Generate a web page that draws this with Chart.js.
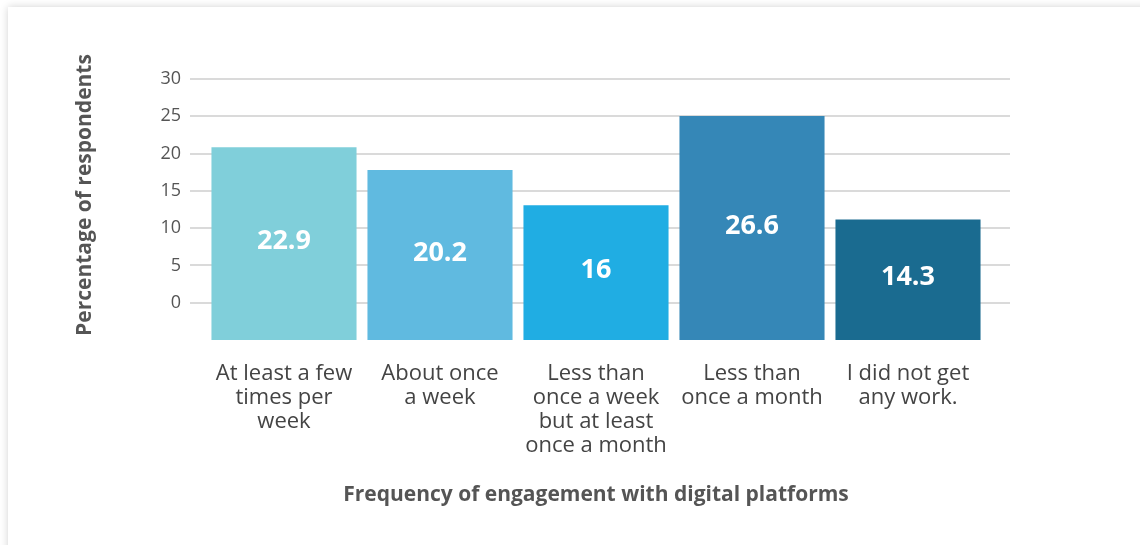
<!DOCTYPE html>
<html>
<head>
<meta charset="utf-8">
<script src="https://cdn.jsdelivr.net/npm/chart.js@4/dist/chart.umd.min.js"></script>
<style>
  html, body { margin: 0; padding: 0; background: #fff; overflow: hidden; }
  #card {
    position: absolute; left: 8px; top: 7px; width: 1200px; height: 600px;
    background: #fff; box-shadow: 0 0 8px rgba(0, 0, 0, 0.18);
  }
  #wrap { position: absolute; left: 0; top: 0; width: 1140px; height: 545px; }
</style>
</head>
<body>
<div id="card"></div>
<div id="wrap"><canvas id="chart"></canvas></div>
<script>
// data
const categories = [
    ['At least a few', 'times per', 'week'],
    ['About once', 'a week'],
    ['Less than', 'once a week', 'but at least', 'once a month'],
    ['Less than', 'once a month'],
    ['I did not get', 'any work.']
];
const values = [22.9, 20.2, 16, 26.6, 14.3];
const barColors = ['#80cfda', '#60bae0', '#20ade3', '#3587b7', '#1a6b90'];
const yTicks = [0, 5, 10, 15, 20, 25, 30];
const yTitle = 'Percentage of respondents';
const xTitle = 'Frequency of engagement with digital platforms';

const FONT = '"Open Sans", Lato, sans-serif';
const GRID = '#dadada';

// white value labels in the middle of each bar
const barLabels = {
    id: 'barLabels',
    afterDatasetsDraw(chart) {
        const { ctx } = chart;
        const meta = chart.getDatasetMeta(0);
        ctx.save();
        ctx.fillStyle = '#fff';
        ctx.font = 'bold 27px ' + FONT;
        ctx.textAlign = 'center';
        ctx.textBaseline = 'middle';
        meta.data.forEach((bar, i) => {
            ctx.fillText(String(values[i]), bar.x, (bar.y + bar.base) / 2 - 2);
        });
        ctx.restore();
    }
};

// rotated y title, sitting a bit above the plot's middle like the original
const sideTitle = {
    id: 'sideTitle',
    afterDraw(chart) {
        const { ctx } = chart;
        ctx.save();
        ctx.translate(85, 195);
        ctx.rotate(-Math.PI / 2);
        ctx.fillStyle = '#555';
        ctx.font = 'bold 21px ' + FONT;
        ctx.textAlign = 'center';
        ctx.textBaseline = 'middle';
        ctx.fillText(yTitle, 0, 0);
        ctx.restore();
    }
};

new Chart(document.getElementById('chart'), {
    type: 'bar',
    data: {
        labels: categories,
        datasets: [{
            data: values,
            backgroundColor: barColors,
            yAxisID: 'yBars',
            categoryPercentage: 1,
            barPercentage: 0.93
        }]
    },
    options: {
        responsive: true,
        maintainAspectRatio: false,
        animation: false,
        layout: { padding: { top: 79, right: 130, bottom: 0, left: 0 } },
        plugins: { legend: { display: false }, tooltip: { enabled: false } },
        scales: {
            x: {
                grid: { display: false, drawTicks: false },
                border: { display: false },
                ticks: {
                    color: '#444',
                    font: { family: FONT, size: 22, lineHeight: '24px' },
                    padding: 22, maxRotation: 0, autoSkip: false
                },
                title: {
                    display: true,
                    text: xTitle,
                    color: '#555',
                    font: { family: FONT, size: 21, weight: 'bold' },
                    padding: { top: 0, bottom: 37 }
                },
                afterFit: s => { s.height = 205; }
            },
            y: {
                position: 'left',
                min: -5,
                max: 30,
                afterBuildTicks: s => { s.ticks = yTicks.map(v => ({ value: v })); },
                grid: { color: GRID, lineWidth: 2, tickLength: 16 },
                border: { display: false },
                ticks: { color: '#555', font: { family: FONT, size: 18 }, padding: 9 },
                afterFit: s => { s.width = 206; }
            },
            yRight: {
                position: 'right',
                min: -5,
                max: 30,
                afterBuildTicks: s => { s.ticks = yTicks.map(v => ({ value: v })); },
                grid: { color: GRID, lineWidth: 2, tickLength: 24, drawOnChartArea: false },
                border: { display: false },
                ticks: { callback: () => '', padding: 0 },
                afterFit: s => { s.width = 24; }
            },
            yBars: {
                display: false,
                min: 0,
                max: 31
            }
        }
    },
    plugins: [barLabels, sideTitle]
});
</script>
</body>
</html>
